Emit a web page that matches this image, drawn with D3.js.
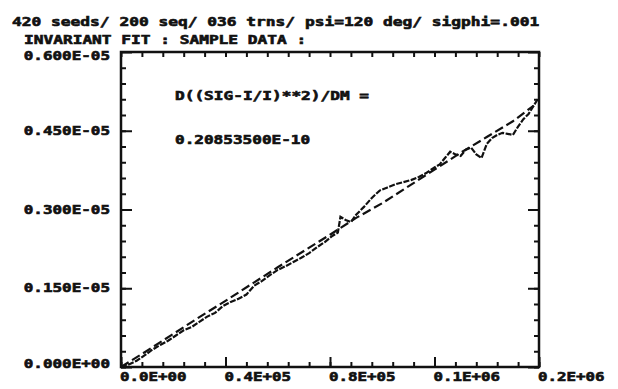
<!DOCTYPE html>
<html>
<head>
<meta charset="utf-8">
<script src="https://cdn.jsdelivr.net/npm/d3@7"></script>
<style>
  body { margin: 0; background: #fff; }
  svg { display: block; }
</style>
</head>
<body>
<svg width="618" height="389"></svg>
<script>
// ---- data ----
const titleLines = ['420 seeds/ 200 seq/ 036 trns/ psi=120 deg/ sigphi=.001', 'INVARIANT FIT : SAMPLE DATA :'];
const noteLines = ['D((SIG-I/I)**2)/DM =', '0.20853500E-10'];

const xTicks = [0, 40000, 80000, 120000, 160000];
const xTickLabels = ['0.0E+00', '0.4E+05', '0.8E+05', '0.1E+06', '0.2E+06'];
const yTicks = [0, 1.5e-6, 3.0e-6, 4.5e-6, 6.0e-6];
const yTickLabels = ['0.000E+00', '0.150E-05', '0.300E-05', '0.450E-05', '0.600E-05'];

// sample data curve (x in steps, y in units of 1e-6)
const sampleX = [0, 3000, 6000, 9000, 12000, 15000, 18000, 21000, 24000, 27000, 30000, 33000, 36000, 39000,
  42000, 45000, 48000, 51000, 54000, 57000, 60000, 63000, 66000, 69000, 72000, 75000, 78000, 81000, 83000,
  84000, 86000, 88000, 90000, 93000, 96000, 99000, 102000, 105000, 108000, 111000, 114000, 117000, 120000,
  122000, 124000, 126000, 128000, 130000, 132000, 134000, 136000, 138000, 140000, 142000, 144000, 146000,
  148000, 150000, 152000, 154000, 156000, 158000, 159500];
const sampleY = [0, 0.05, 0.12, 0.22, 0.33, 0.42, 0.50, 0.60, 0.70, 0.76, 0.86, 0.96, 1.03, 1.16,
  1.24, 1.30, 1.38, 1.55, 1.64, 1.75, 1.85, 1.92, 2.00, 2.08, 2.17, 2.28, 2.38, 2.50, 2.56,
  2.86, 2.80, 2.76, 2.90, 3.05, 3.22, 3.36, 3.42, 3.48, 3.52, 3.56, 3.62, 3.70, 3.80,
  3.86, 3.98, 4.10, 4.05, 4.02, 4.14, 4.18, 4.05, 3.98, 4.25, 4.36, 4.42, 4.46,
  4.44, 4.42, 4.58, 4.72, 4.82, 4.98, 5.10];

// invariant fit (dashed)
const fitX = [0, 10000, 20000, 30000, 40000, 50000, 60000, 70000, 80000, 90000, 100000, 110000, 120000, 130000, 140000, 150000, 158000];
const fitY = [0, 0.31, 0.63, 0.95, 1.26, 1.58, 1.90, 2.21, 2.52, 2.84, 3.12, 3.44, 3.76, 4.08, 4.38, 4.68, 4.98];

// ---- layout ----
const svg = d3.select('svg');
const plotL = 121, plotR = 539, plotT = 52, plotB = 367;
const font = "'DejaVu Sans Mono', monospace";
const charW = 9.8;

const x = d3.scaleLinear().domain([0, 160000]).range([plotL, plotR]);
const y = d3.scaleLinear().domain([0, 6e-6]).range([plotB, plotT]);

// helper for wide blocky text (printer style)
function label(g, str, px, py, anchor) {
  return g.append('text')
    .attr('x', px).attr('y', py)
    .attr('text-anchor', anchor || 'start')
    .attr('font-family', font)
    .attr('font-weight', 'bold')
    .attr('font-size', 12)
    .attr('textLength', str.length * charW - 2)
    .attr('lengthAdjust', 'spacingAndGlyphs')
    .attr('fill', '#111')
    .attr('stroke', '#111')
    .attr('stroke-width', 0.6)
    .text(str);
}

// titles
label(svg, titleLines[0], 12, 26);
label(svg, titleLines[1], 24, 44);

// inward ticks on all four sides
const xMinor = d3.range(0, 160001, 8000);
const yMinor = d3.range(0, 20).map(i => i * 0.3e-6);

function tickAxis(axis, vals, size, tr) {
  const g = svg.append('g')
    .attr('transform', tr)
    .call(axis.tickValues(vals).tickSize(-size).tickFormat(''));
  g.select('.domain').remove();
  g.selectAll('line').attr('stroke', '#111').attr('stroke-width', 2);
}
tickAxis(d3.axisBottom(x), xMinor, 5, `translate(0,${plotB})`);
tickAxis(d3.axisBottom(x), xTicks, 10, `translate(0,${plotB})`);
tickAxis(d3.axisTop(x), xMinor, 5, `translate(0,${plotT})`);
tickAxis(d3.axisLeft(y), yMinor, 5, `translate(${plotL},0)`);
tickAxis(d3.axisLeft(y), yTicks, 11, `translate(${plotL},0)`);
tickAxis(d3.axisRight(y), yMinor, 5, `translate(${plotR},0)`);
tickAxis(d3.axisRight(y), yTicks, 11, `translate(${plotR},0)`);

// frame
svg.append('rect')
  .attr('x', plotL).attr('y', plotT)
  .attr('width', plotR - plotL).attr('height', plotB - plotT)
  .attr('fill', 'none').attr('stroke', '#111').attr('stroke-width', 2.5);

// tick labels
xTicks.forEach((v, i) => label(svg, xTickLabels[i], x(v) - 1, 381));
yTicks.forEach((v, i) => {
  let py = y(v) + 4;
  if (i === yTicks.length - 1) py += 4;
  if (i === 0) py -= 3;
  label(svg, yTickLabels[i], 110, py, 'end');
});

// annotation
label(svg, noteLines[0], 175, 100);
label(svg, noteLines[1], 175, 144);

// curves
const line = d3.line().x(d => x(d[0])).y(d => y(d[1] * 1e-6));

svg.append('path')
  .datum(fitX.map((v, i) => [v, fitY[i]]))
  .attr('d', line)
  .attr('fill', 'none')
  .attr('stroke', '#111')
  .attr('stroke-width', 2.2)
  .attr('stroke-dasharray', '9,4');

svg.append('path')
  .datum(sampleX.map((v, i) => [v, sampleY[i]]))
  .attr('d', line)
  .attr('fill', 'none')
  .attr('stroke', '#111')
  .attr('stroke-width', 2.2)
  .attr('stroke-dasharray', '6,1.5');
</script>
</body>
</html>
